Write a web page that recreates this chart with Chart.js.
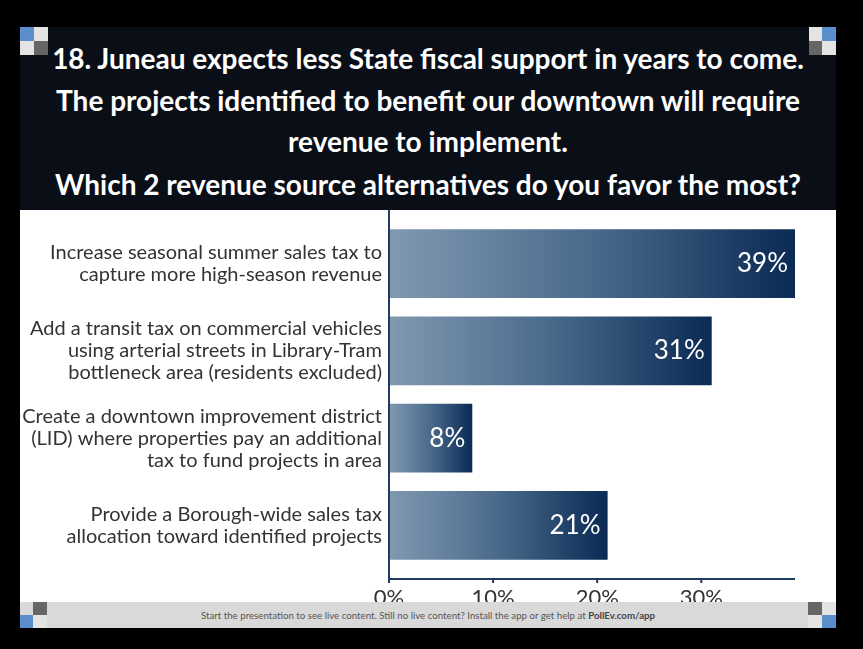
<!DOCTYPE html>
<html>
<head>
<meta charset="utf-8">
<script src="https://cdn.jsdelivr.net/npm/chart.js@4/dist/chart.umd.min.js"></script>
<style>
  html, body { margin: 0; padding: 0; background: #000; }
  body { width: 863px; height: 649px; position: relative; overflow: hidden; font-family: Lato, sans-serif; }
  .screen { position: absolute; left: 20px; top: 27px; width: 816px; height: 601px; background: #fff; }
  .header { position: absolute; left: 0; top: 0; width: 816px; height: 183px; background: #0a0f17; }
  .title-line { position: absolute; left: 0; width: 816px; height: 42px; line-height: 42px; text-align: center;
    color: #fff; font-weight: 700; font-size: 28px; white-space: nowrap; }
  #chartBox { position: absolute; left: 0; top: 183px; width: 816px; height: 418px; }
  .footer { position: absolute; left: 0; top: 575px; width: 816px; height: 26px; background: #d9d9d9;
    line-height: 26px; text-align: center; font-size: 9.7px; color: #555; z-index: 2; }
  .footer b { color: #444; }
  .sq { position: absolute; width: 14px; height: 14px; z-index: 3; }
  .blue { background: #5b8fcb; }
  .dark { background: #666; }
  .light { background: #e4e4e4; }
</style>
</head>
<body>
<div class="screen">
  <div class="header">
    <div class="title-line" style="top:10px">18. Juneau expects less State fiscal support in years to come.</div>
    <div class="title-line" style="top:52px">The projects identified to benefit our downtown will require</div>
    <div class="title-line" style="top:93px">revenue to implement.</div>
    <div class="title-line" style="top:136px">Which 2 revenue source alternatives do you favor the most?</div>
  </div>
  <div id="chartBox"><canvas id="chart" width="816" height="418"></canvas></div>
  <div class="footer">Start the presentation to see live content. Still no live content? Install the app or get help at <b>PollEv.com/app</b></div>

  <!-- corner markers -->
  <div class="sq blue" style="left:0;top:0"></div>
  <div class="sq light" style="left:14px;top:0"></div>
  <div class="sq light" style="left:0;top:14px"></div>
  <div class="sq dark" style="left:14px;top:14px"></div>

  <div class="sq light" style="left:789px;top:0"></div>
  <div class="sq blue" style="left:802px;top:0"></div>
  <div class="sq dark" style="left:789px;top:14px"></div>
  <div class="sq light" style="left:802px;top:14px"></div>

  <div class="sq dark" style="left:13px;top:575px;height:13px"></div>
  <div class="sq blue" style="left:0;top:588px;height:13px;width:13px"></div>
  <div class="sq light" style="left:13px;top:588px;height:13px"></div>

  <div class="sq dark" style="left:788px;top:575px;height:13px"></div>
  <div class="sq light" style="left:788px;top:588px;height:13px"></div>
  <div class="sq blue" style="left:802px;top:588px;height:13px"></div>
  <div class="sq light" style="left:802px;top:575px;height:13px"></div>
</div>

<script>
const categories = [
  ['Increase seasonal summer sales tax to', 'capture more high-season revenue'],
  ['Add a transit tax on commercial vehicles', 'using arterial streets in Library-Tram', 'bottleneck area (residents excluded)'],
  ['Create a downtown improvement district', '(LID) where properties pay an additional', 'tax to fund projects in area'],
  ['Provide a Borough-wide sales tax', 'allocation toward identified projects']
];
const shares = [39, 31, 8, 21];
const xTicks = [0, 10, 20, 30];

const AXIS_COLOR = '#1f3b60';
const BAR_LIGHT = '#8199b1';
const BAR_DARK = '#0b2a54';

// each bar fades from light slate at zero to navy at its own end
function barGradient(context) {
  const chart = context.chart;
  const xScale = chart.scales.x;
  if (!chart.chartArea || !xScale) return BAR_DARK;
  const x0 = xScale.getPixelForValue(0);
  const x1 = xScale.getPixelForValue(shares[context.dataIndex]);
  const g = chart.ctx.createLinearGradient(x0, 0, x1, 0);
  g.addColorStop(0, BAR_LIGHT);
  g.addColorStop(0.5, '#4a6a8c');
  g.addColorStop(1, BAR_DARK);
  return g;
}

const axisLines = {
  id: 'axisLines',
  afterDatasetsDraw(chart) {
    const { ctx, chartArea, scales: { x } } = chart;
    const x0 = x.getPixelForValue(0);
    const yLine = chartArea.bottom + 10;
    ctx.save();
    ctx.strokeStyle = AXIS_COLOR;
    ctx.lineWidth = 2;
    ctx.beginPath();
    ctx.moveTo(x0, 0);
    ctx.lineTo(x0, yLine);
    ctx.lineTo(chartArea.right, yLine);
    xTicks.forEach((v) => {
      const px = x.getPixelForValue(v);
      ctx.moveTo(px, yLine);
      ctx.lineTo(px, yLine + 4);
    });
    ctx.stroke();

    // percentage labels inside the bar ends
    const meta = chart.getDatasetMeta(0);
    ctx.fillStyle = '#fff';
    ctx.font = '26px Lato, sans-serif';
    ctx.textAlign = 'right';
    ctx.textBaseline = 'middle';
    meta.data.forEach((bar, i) => {
      ctx.fillText(shares[i] + '%', bar.x - 7, bar.y);
    });
    ctx.restore();
  }
};

new Chart(document.getElementById('chart'), {
  type: 'bar',
  data: {
    labels: categories,
    datasets: [{
      data: shares,
      backgroundColor: barGradient,
      borderWidth: 0,
      categoryPercentage: 1,
      barPercentage: 0.79
    }]
  },
  options: {
    indexAxis: 'y',
    responsive: false,
    animation: false,
    layout: { padding: { top: 10, right: 41, left: 0, bottom: 0 } },
    plugins: {
      legend: { display: false },
      tooltip: { enabled: false }
    },
    scales: {
      x: {
        min: 0,
        max: 39,
        grid: { display: false, drawTicks: false },
        border: { display: false },
        afterBuildTicks: (axis) => { axis.ticks = xTicks.map((v) => ({ value: v })); },
        afterFit: (axis) => {
          axis.height = 59;
          axis.paddingLeft = 0;
          axis.paddingRight = 0;
        },
        ticks: {
          padding: 16,
          color: '#333',
          font: { family: 'Lato, sans-serif', size: 22 },
          callback: (v) => v + '%'
        }
      },
      y: {
        grid: { display: false, drawTicks: false },
        border: { display: false },
        afterFit: (axis) => {
          axis.width = 369;
          axis.paddingTop = 0;
          axis.paddingBottom = 0;
        },
        ticks: {
          padding: 7,
          color: '#333',
          font: { family: 'Lato, sans-serif', size: 20, lineHeight: '22px' }
        }
      }
    }
  },
  plugins: [axisLines]
});
</script>
</body>
</html>
